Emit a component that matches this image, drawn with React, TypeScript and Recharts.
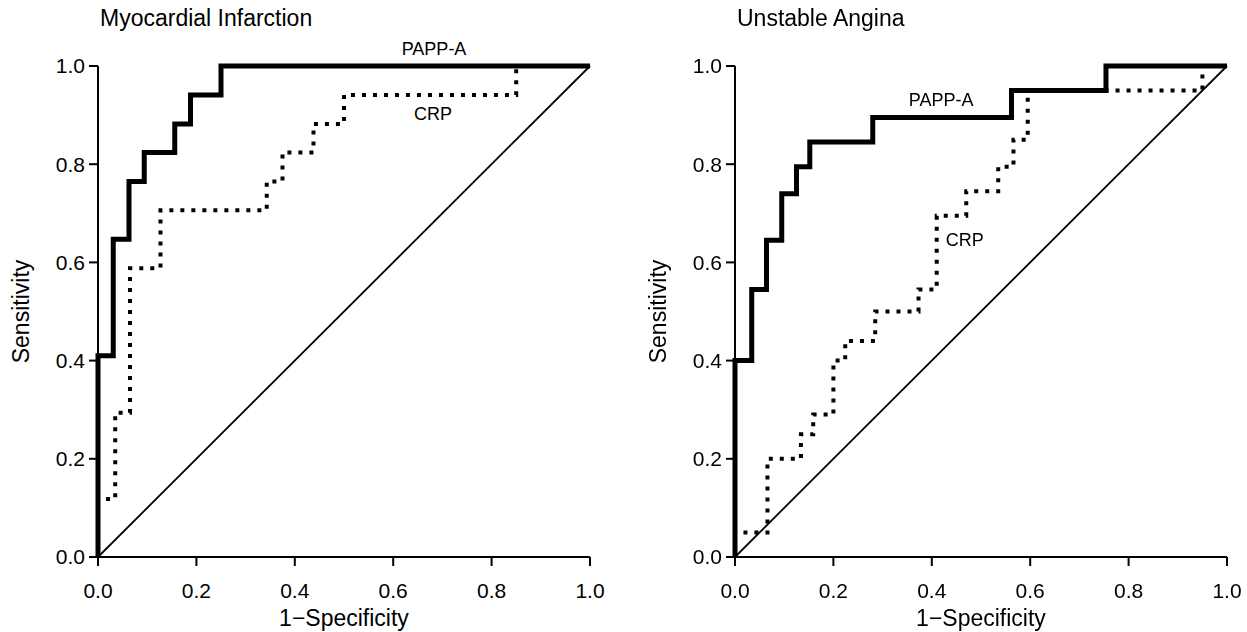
import { LineChart, Line, XAxis, YAxis, ReferenceDot } from 'recharts'

const AXIS_TICKS = [0, 0.2, 0.4, 0.6, 0.8, 1.0]

// Myocardial infarction: ROC operating points (1-specificity, sensitivity)
const MI_PAPPA_FPR = [0, 0, 0.031, 0.063, 0.094, 0.156, 0.188, 0.25, 1]
const MI_PAPPA_TPR = [0, 0.41, 0.647, 0.765, 0.824, 0.882, 0.941, 1, 1]
const MI_CRP_FPR = [0, 0, 0.035, 0.065, 0.127, 0.343, 0.375, 0.438, 0.5, 0.85, 1]
const MI_CRP_TPR = [0, 0.118, 0.294, 0.588, 0.706, 0.765, 0.824, 0.882, 0.941, 1, 1]

// Unstable angina
const UA_PAPPA_FPR = [0, 0, 0.034, 0.064, 0.095, 0.125, 0.152, 0.28, 0.562, 0.754, 1]
const UA_PAPPA_TPR = [0, 0.4, 0.545, 0.645, 0.74, 0.795, 0.845, 0.895, 0.95, 1, 1]
const UA_CRP_FPR = [0, 0, 0.066, 0.134, 0.159, 0.2, 0.224, 0.285, 0.373, 0.41, 0.47, 0.535, 0.566, 0.595, 0.95, 1]
const UA_CRP_TPR = [0, 0.05, 0.2, 0.25, 0.29, 0.4, 0.44, 0.5, 0.545, 0.695, 0.745, 0.795, 0.85, 0.95, 1, 1]

// chance line
const DIAG_FPR = [0, 1]
const DIAG_TPR = [0, 1]

// curve label anchors [x, y] in data units
const MI_LABELS = { pappa: [0.683, 1.036], crp: [0.681, 0.904] }
const UA_LABELS = { pappa: [0.419, 0.932], crp: [0.467, 0.646] }

const FONT = '"Liberation Sans", Arial, Helvetica, sans-serif'

const toPoints = (fpr: number[], tpr: number[]) => fpr.map((x, i) => ({ x, y: tpr[i] }))

interface PanelProps {
    title: string;
    left: number;
    pappa: { x: number; y: number }[];
    crp: { x: number; y: number }[];
    labels: { pappa: number[]; crp: number[] };
}

function RocPanel({ title, left, pappa, crp, labels }: PanelProps) {
    const diag = toPoints(DIAG_FPR, DIAG_TPR)
    return (
        <div style={{ position: 'absolute', left, top: 0, width: 620, height: 632 }}>
            <div style={{ position: 'absolute', left: 100, top: 7, fontSize: 23, lineHeight: '23px', fontFamily: FONT, color: '#000', whiteSpace: 'nowrap' }}>
                {title}
            </div>
            <LineChart width={620} height={632} margin={{ top: 66, right: 30, bottom: 0, left: 0 }}>
                <XAxis
                    dataKey="x"
                    type="number"
                    domain={[0, 1]}
                    ticks={AXIS_TICKS}
                    tickFormatter={(v: number) => v.toFixed(1)}
                    height={75}
                    stroke="#000"
                    strokeWidth={2}
                    tickSize={9}
                    tickMargin={17}
                    tick={{ fill: '#000', fontSize: 21, fontFamily: FONT }}
                    label={{ value: '1\u2212Specificity', position: 'insideBottom', offset: 6, fill: '#000', fontSize: 23, fontFamily: FONT }}
                />
                <YAxis
                    dataKey="y"
                    type="number"
                    domain={[0, 1]}
                    ticks={AXIS_TICKS}
                    tickFormatter={(v: number) => v.toFixed(1)}
                    width={98}
                    stroke="#000"
                    strokeWidth={2}
                    tickSize={9}
                    tickMargin={4}
                    tick={{ fill: '#000', fontSize: 21, fontFamily: FONT }}
                    label={{ value: 'Sensitivity', angle: -90, position: 'insideLeft', offset: 21, fill: '#000', fontSize: 23, fontFamily: FONT, style: { textAnchor: 'middle' } }}
                />
                <Line data={diag} dataKey="y" type="linear" stroke="#000" strokeWidth={1.8} dot={false} activeDot={false} isAnimationActive={false} />
                <Line data={crp} dataKey="y" type="stepAfter" stroke="#000" strokeWidth={4} strokeDasharray="4 7" dot={false} activeDot={false} isAnimationActive={false} />
                <Line data={pappa} dataKey="y" type="stepAfter" stroke="#000" strokeWidth={5} dot={false} activeDot={false} isAnimationActive={false} />
                <ReferenceDot x={labels.pappa[0]} y={labels.pappa[1]} r={0} fill="none" stroke="none" ifOverflow="visible"
                    label={{ value: 'PAPP-A', position: 'center', fill: '#000', fontSize: 18, fontFamily: FONT }} />
                <ReferenceDot x={labels.crp[0]} y={labels.crp[1]} r={0} fill="none" stroke="none" ifOverflow="visible"
                    label={{ value: 'CRP', position: 'center', fill: '#000', fontSize: 18, fontFamily: FONT }} />
            </LineChart>
        </div>
    )
}

export default function App() {
    return (
        <div style={{ position: 'fixed', left: 0, top: 0, width: 1247, height: 632, background: '#fff' }}>
            <RocPanel
                title="Myocardial Infarction"
                left={0}
                pappa={toPoints(MI_PAPPA_FPR, MI_PAPPA_TPR)}
                crp={toPoints(MI_CRP_FPR, MI_CRP_TPR)}
                labels={MI_LABELS}
            />
            <RocPanel
                title="Unstable Angina"
                left={637}
                pappa={toPoints(UA_PAPPA_FPR, UA_PAPPA_TPR)}
                crp={toPoints(UA_CRP_FPR, UA_CRP_TPR)}
                labels={UA_LABELS}
            />
        </div>
    )
}
